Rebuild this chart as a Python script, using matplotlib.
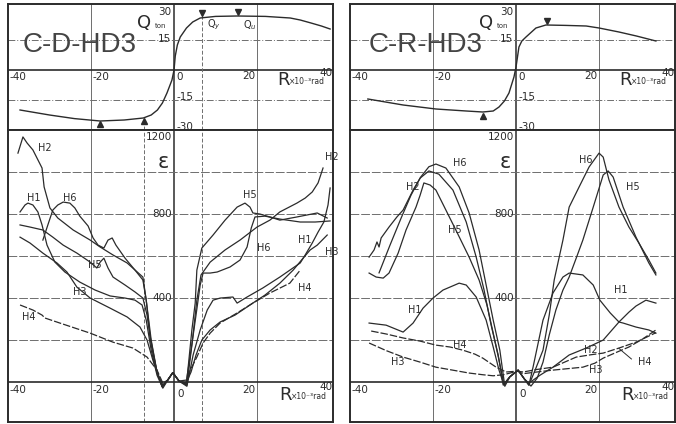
import matplotlib
matplotlib.use('Agg')
import matplotlib.pyplot as plt

plt.rcParams['font.family'] = ['DejaVu Sans']

INK = '#2b2b2b'
GRID = '#6e6e6e'
NARROW = ['Liberation Sans Narrow', 'DejaVu Sans']
TITLE_FONT = ['Liberation Sans', 'DejaVu Sans']

# ---- load - rotation curves, Q (ton) vs R (x10^-3 rad)
cd_q_r = [-37.1, -30, -24, -17.8, -12, -7.4, -5.5, -4, -2.8, -1.7, -0.5, 0, 0.3, 0.8, 1.5, 3,
          4.5, 6.3, 10, 15.2, 22, 28, 30.4, 33, 35.5, 37.6]
cd_q_val = [-20, -22.5, -24.3, -25.5, -25, -24, -22.5, -20, -16.5, -11.5, -5, 0, 7, 12.5, 16.5, 21,
            24, 26, 26.8, 27, 26.8, 26, 25, 23.5, 22, 20.5]
cr_q_r = [-35.7, -27.2, -19.3, -12, -8, -5.5, -4.1, -2.8, -1.7, -0.5, 0, 0.7, 1.4, 2.4, 4.8, 7.2,
          12, 16.9, 20, 24.8, 29, 33.7]
cr_q_val = [-14.5, -17.5, -19.5, -20.5, -21, -20.5, -18.5, -15.5, -11.5, -3.5, 1.5, 11.5, 14.5, 16.5,
            21, 22.5, 22.3, 22, 21, 19, 17, 14.5]

# yield / ultimate marks
cd_up_r = [-17.8, -7.2]
cd_up_q = [-27.0, -25.5]
cd_dn_r = [6.7, 15.3]
cd_dn_q = [28.3, 28.8]
cd_dn_names = ['Q$_y$', 'Q$_u$']
cd_yield_r = [-7.2, 6.7]
cr_up_r = [-8.0]
cr_up_q = [-23.0]
cr_dn_r = [7.5]
cr_dn_q = [24.5]

# ---- strain curves, eps (x10^-6) vs R, C-D-HD3
cd_mid_r = [-1.5, -0.3, 1.2]
cd_mid_e = [10, 45, 5]

cd_h1_r = [-37.1, -35.9, -35.2, -34.0, -32.8, -31.8, -30.6, -28.7, -26.3, -22.7, -19.0, -15.4, -11.8,
           -9.4, -7.7, -6.7, -5.5, -4.1, -2.8]
cd_h1_e = [810, 843, 852, 843, 810, 748, 652, 571, 524, 476, 438, 410, 400, 390, 367, 295, 152, 33, -25]
cd_h1_r2 = [3.1, 4.6, 6.3, 8.0, 9.4, 11.1, 14.2, 15.2, 17.6, 21.4, 25.5, 30.4, 31.6, 33.3, 34.7, 36.1,
            37.1, 37.6]
cd_h1_e2 = [-20, 129, 248, 343, 390, 400, 405, 376, 405, 448, 500, 567, 605, 662, 714, 762, 843, 924]

cd_h2_r = [-37.6, -36.4, -35.4, -34.0, -31.8, -31.3, -29.9, -28.0, -24.3, -20.2, -17.8, -14.7, -11.3,
           -7.5, -6.7, -5.8, -4.3, -2.9]
cd_h2_e = [1090, 1167, 1138, 1105, 1019, 929, 829, 781, 724, 676, 643, 605, 567, 500, 390, 224, 67, -20]
cd_h2_r2 = [3.1, 4.3, 5.5, 6.5, 8.7, 12.3, 15.9, 20.0, 23.1, 25.5, 29.6, 31.6, 33.3, 34.7, 35.9]
cd_h2_e2 = [-15, 176, 390, 510, 571, 629, 676, 738, 771, 810, 852, 876, 905, 948, 1019]

cd_h3_r = [-37.1, -34.7, -31.6, -28.2, -25.8, -23.4, -20.2, -15.4, -11.3, -8.2, -6.5, -5.1, -3.9, -2.7]
cd_h3_e = [690, 662, 614, 567, 524, 452, 400, 352, 310, 262, 200, 105, 33, -14]
cd_h3_r2 = [2.9, 4.1, 5.3, 6.7, 8.7, 11.1, 14.7, 18.3, 21.9, 25.5, 28.7, 31.1, 32.8, 34.5, 35.7, 36.9]
cd_h3_e2 = [-5, 48, 129, 200, 248, 286, 319, 367, 414, 471, 533, 590, 629, 652, 676, 700]

cd_h4_r = [-37.1, -34.0, -31.8, -31.1, -27.5, -20.2, -14.7, -9.9, -6.5, -4.1, -2.7]
cd_h4_e = [367, 343, 319, 305, 281, 233, 190, 162, 119, 57, -5]
cd_h4_r2 = [2.9, 3.9, 5.5, 7.0, 8.7, 11.1, 15.2, 19.0, 23.1, 27.9, 30.4]
cd_h4_e2 = [-10, 57, 119, 186, 233, 281, 329, 376, 424, 471, 533]

cd_h5_r = [-37.1, -34.7, -31.6, -29.2, -26.7, -23.4, -20.2, -18.6, -17.8, -16.9, -15.9, -14.7, -11.8,
           -9.4, -7.5, -6.5, -5.5, -4.1, -2.9]
cd_h5_e = [748, 738, 724, 690, 652, 614, 571, 543, 571, 590, 543, 500, 462, 429, 400, 319, 176, 48, -19]
cd_h5_r2 = [3.1, 4.3, 5.1, 5.5, 6.7, 9.4, 12.3, 15.2, 17.1, 18.3, 19.0, 20.7, 23.1, 25.5, 29.6, 34.5, 36.9]
cd_h5_e2 = [10, 248, 376, 533, 638, 700, 771, 833, 852, 833, 805, 800, 786, 771, 786, 805, 781]

cd_h6_r = [-31.6, -30.4, -29.2, -28.0, -26.7, -25.1, -23.9, -22.7, -20.7, -19.5, -18.3, -16.9, -15.9,
           -14.9, -14.0, -11.8, -9.4, -7.5, -6.7, -5.5, -4.1, -2.7]
cd_h6_e = [676, 748, 819, 843, 857, 852, 829, 790, 743, 686, 652, 638, 676, 686, 652, 590, 533, 486,
           390, 200, 48, -29]
cd_h6_r2 = [2.9, 4.1, 5.3, 6.3, 7.0, 8.7, 10.4, 13.5, 15.9, 17.6, 18.6, 19.5, 21.9, 25.5, 30.4, 34.0, 37.6]
cd_h6_e2 = [-5, 152, 319, 462, 519, 519, 524, 548, 581, 643, 733, 786, 790, 776, 762, 762, 767]

# ---- strain curves, C-R-HD3
cr_mid_r = [-1.5, 0.5, 2.0]
cr_mid_e = [25, 57, 15]
cr_flat_r = [0.3]
cr_flat_e = [52]

cr_h1_r = [-35.4, -31.3, -27.2, -24.8, -22.4, -20.0, -17.6, -13.7, -12.0, -9.6, -7.2, -5.5, -4.1, -2.9]
cr_h1_e = [281, 271, 238, 281, 352, 400, 438, 471, 462, 405, 295, 167, 57, -15]
cr_h1_r2 = [3.1, 4.1, 6.5, 8.9, 11.3, 12.8, 16.1, 18.6, 20.2, 22.7, 24.8, 25.8, 28.9, 32.0, 33.7]
cr_h1_e2 = [-15, 71, 295, 424, 500, 519, 510, 462, 390, 329, 286, 281, 262, 248, 233]

cr_h2_r = [-35.4, -34.2, -33.5, -33.0, -32.5, -30.6, -28.7, -27.2, -24.8, -23.1, -21.0, -18.6, -15.2,
           -12.0, -9.6, -7.7, -6.0, -4.3, -3.1]
cr_h2_e = [595, 629, 667, 643, 686, 738, 786, 819, 914, 971, 1005, 990, 914, 762, 595, 438, 271, 129, -14]
cr_h2_r2 = [3.1, 5.8, 8.9, 12.8, 16.9, 21.0, 24.8, 27.2, 28.9, 31.3, 33.7]
cr_h2_e2 = [-5, 33, 71, 129, 162, 200, 286, 333, 362, 390, 376]

cr_h3_r = [-35.4, -31.3, -27.2, -23.1, -19.3, -15.3, -11.3, -8.0, -5.5, -3.0]
cr_h3_e = [186, 150, 119, 95, 71, 57, 43, 35, 30, 35]
cr_h3_r2 = [1.7, 5.0, 8.9, 12.5, 16.1, 19.0, 21.0, 24.0, 27.2, 30.5, 33.7]
cr_h3_e2 = [40, 48, 57, 64, 71, 90, 114, 140, 167, 205, 248]

cr_h4_r = [-34.9, -31.3, -27.2, -23.1, -19.3, -15.9, -12.8, -9.9, -8.0, -4.8, -2.4]
cr_h4_e = [243, 229, 210, 195, 176, 167, 152, 133, 114, 71, 48]
cr_h4_r2 = [1.7, 5.0, 8.9, 14.5, 18.0, 21.0, 24.8, 28.9, 33.7]
cr_h4_e2 = [48, 60, 71, 119, 130, 138, 162, 190, 235]

cr_h5_r = [-35.4, -33.7, -32.0, -30.6, -28.4, -26.5, -24.1, -23.1, -22.2, -20.7, -19.3, -16.9, -14.5,
           -11.3, -8.9, -7.0, -5.5, -4.1, -2.9]
cr_h5_e = [519, 500, 495, 519, 614, 724, 833, 890, 948, 938, 914, 819, 724, 595, 486, 367, 233, 105, -10]
cr_h5_r2 = [3.6, 5.1, 6.5, 8.0, 9.6, 11.3, 12.8, 14.5, 16.1, 18.6, 21.0, 22.2, 23.4, 25.8, 28.9, 32.0, 33.7]
cr_h5_e2 = [-19, 19, 95, 224, 343, 438, 500, 590, 676, 833, 986, 1005, 976, 833, 690, 567, 510]

cr_h6_r = [-33.0, -30.4, -27.7, -25.3, -23.0, -21.0, -19.3, -16.9, -13.7, -11.3, -8.9, -7.2, -5.5, -3.9, -2.7]
cr_h6_e = [520, 650, 780, 890, 975, 1025, 1038, 1019, 929, 805, 629, 462, 295, 152, -20]
cr_h6_r2 = [3.1, 4.6, 6.5, 8.0, 9.2, 11.3, 12.8, 15.2, 17.6, 20.0, 21.0, 22.4, 24.8, 27.2, 29.6, 32.0, 33.7]
cr_h6_e2 = [-14, 57, 152, 319, 486, 676, 833, 929, 1024, 1090, 1071, 962, 833, 738, 662, 581, 519]

# curve label positions (R, eps)
cd_labels = [('H2', -32.8, 1114), ('H1', -35.4, 876), ('H6', -26.7, 876), ('H5', -20.7, 557),
             ('H3', -24.3, 429), ('H4', -36.6, 310), ('H5', 16.6, 890), ('H6', 20.0, 638),
             ('H1', 29.9, 676), ('H3', 36.4, 619), ('H4', 29.9, 448), ('H2', 36.4, 1071)]
cr_labels = [('H6', -15.2, 1043), ('H2', -26.5, 929), ('H5', -16.4, 724), ('H1', -26.0, 343),
             ('H4', -15.2, 176), ('H3', -30.1, 95), ('H6', 15.2, 1057), ('H5', 26.5, 929),
             ('H1', 23.5, 440), ('H2', 16.4, 152), ('H3', 17.6, 57), ('H4', 29.4, 95)]

fig = plt.figure(figsize=(6.76, 4.24), dpi=100)
W, H = 676.0, 424.0


def make_axes(x0, x1, xlim):
    aq = fig.add_axes([x0 / W, 1 - 130 / H, (x1 - x0) / W, 126 / H])
    ae = fig.add_axes([x0 / W, 2 / H, (x1 - x0) / W, 292 / H])
    aq.set_xlim(xlim); aq.set_ylim(-30, 33)
    ae.set_xlim(xlim); ae.set_ylim(-190, 1200)
    for a in (aq, ae):
        a.set_xticks([]); a.set_yticks([])
        for s in a.spines.values():
            s.set_linewidth(1.4); s.set_color(INK)
        for xv in (-20, 20):
            a.axvline(xv, color=GRID, lw=0.7, zorder=1)
        a.axvline(0, color=INK, lw=1.1, zorder=1)
        a.axhline(0, color=INK, lw=1.2, zorder=1)
    for yv in (-15, 15):
        aq.axhline(yv, color=GRID, lw=0.7, ls=(0, (7, 2, 1, 2)), zorder=1)
    for yv in (200, 400, 600, 800, 1000):
        ae.axhline(yv, color=GRID, lw=0.7, ls=(0, (9, 2)), zorder=1)
    return aq, ae


def tick_text(aq, ae, xmax):
    kw = dict(fontsize=7.5, color=INK, family=NARROW)
    aq.text(-39.6, -3.5, '-40', ha='left', va='center', **kw)
    aq.text(-19.6, -3.5, '-20', ha='left', va='center', **kw)
    aq.text(0.5, -3.5, '0', ha='left', va='center', **kw)
    aq.text(19.6, -3.0, '20', ha='right', va='center', **kw)
    aq.text(xmax - 0.2, -1.5, '40', ha='right', va='center', **kw)
    aq.text(-0.6, 29.0, '30', ha='right', va='center', **kw)
    aq.text(-0.6, 15.3, '15', ha='right', va='center', **kw)
    aq.text(0.6, -13.5, '-15', ha='left', va='center', **kw)
    aq.text(0.6, -28.5, '-30', ha='left', va='center', **kw)
    aq.text(xmax - 13.5, -5, 'R', ha='left', va='center', fontsize=13, color=INK, family=NARROW)
    aq.text(xmax - 10.6, -6, '×10⁻³rad', ha='left', va='center', fontsize=5.5, color=INK)
    aq.text(-7.3, 23.5, 'Q', ha='center', va='center', fontsize=13, color=INK, family=NARROW)
    aq.text(-3.3, 22.2, 'ton', ha='center', va='center', fontsize=5, color=INK)

    ae.text(-39.6, -40, '-40', ha='left', va='center', **kw)
    ae.text(-19.6, -40, '-20', ha='left', va='center', **kw)
    ae.text(0.7, -55, '0', ha='left', va='center', **kw)
    ae.text(19.5, -38, '20', ha='right', va='center', **kw)
    ae.text(xmax - 0.2, -25, '40', ha='right', va='center', **kw)
    ae.text(-0.5, 1165, '1200', ha='right', va='center', **kw)
    ae.text(-0.5, 800, '800', ha='right', va='center', **kw)
    ae.text(-0.5, 400, '400', ha='right', va='center', **kw)
    ae.text(-2.6, 1050, 'ε', ha='center', va='center', fontsize=15, color=INK)
    ae.text(xmax - 13.0, -62, 'R', ha='left', va='center', fontsize=13, color=INK, family=NARROW)
    ae.text(xmax - 10.1, -70, '×10⁻³rad', ha='left', va='center', fontsize=5.5, color=INK)


def strain(ae, r1, e1, rm, em, r2, e2, dashed=False):
    ls = (0, (6, 1.6)) if dashed else '-'
    ae.plot(r1 + rm + r2, e1 + em + e2, color=INK, lw=0.9, ls=ls, zorder=3)


# ---------------- C-D-HD3 ----------------
xl1 = (-40, 38.3)
aq1, ae1 = make_axes(8, 333, xl1)
aq1.plot(cd_q_r, cd_q_val, color=INK, lw=1.0, zorder=3)
aq1.plot(cd_up_r, cd_up_q, ls='none', marker='^', ms=4, color=INK, zorder=4)
aq1.plot(cd_dn_r, cd_dn_q, ls='none', marker='v', ms=4, color=INK, zorder=4)
for r, n in zip(cd_dn_r, cd_dn_names):
    aq1.text(r + 1.2, 22.5, n, fontsize=7, color=INK, ha='left', va='center')
aq1.vlines(cd_yield_r[0], -30, cd_up_q[1], color=GRID, lw=0.7, ls=(0, (4, 2)))
aq1.vlines(cd_yield_r[1], -30, cd_dn_q[0], color=GRID, lw=0.7, ls=(0, (4, 2)))
for xv in cd_yield_r:
    ae1.axvline(xv, color=GRID, lw=0.7, ls=(0, (4, 2)), zorder=1)
aq1.text(-36.4, 12.5, 'C-D-HD3', fontsize=20, color='#444444',
         family=TITLE_FONT, ha='left', va='center')

strain(ae1, cd_h1_r, cd_h1_e, cd_mid_r, cd_mid_e, cd_h1_r2, cd_h1_e2)
strain(ae1, cd_h2_r, cd_h2_e, cd_mid_r, cd_mid_e, cd_h2_r2, cd_h2_e2)
strain(ae1, cd_h3_r, cd_h3_e, cd_mid_r, cd_mid_e, cd_h3_r2, cd_h3_e2)
strain(ae1, cd_h4_r, cd_h4_e, cd_mid_r, cd_mid_e, cd_h4_r2, cd_h4_e2, dashed=True)
strain(ae1, cd_h5_r, cd_h5_e, cd_mid_r, cd_mid_e, cd_h5_r2, cd_h5_e2)
strain(ae1, cd_h6_r, cd_h6_e, cd_mid_r, cd_mid_e, cd_h6_r2, cd_h6_e2)
for name, r, e in cd_labels:
    ae1.text(r, e, name, fontsize=7, color=INK, family=NARROW, ha='left', va='center', zorder=5)
tick_text(aq1, ae1, xl1[1])

# ---------------- C-R-HD3 ----------------
xl2 = (-40, 38.3)
aq2, ae2 = make_axes(350, 675, xl2)
aq2.plot(cr_q_r, cr_q_val, color=INK, lw=1.0, zorder=3)
aq2.plot(cr_up_r, cr_up_q, ls='none', marker='^', ms=4, color=INK, zorder=4)
aq2.plot(cr_dn_r, cr_dn_q, ls='none', marker='v', ms=4, color=INK, zorder=4)
aq2.text(-35.4, 12.5, 'C-R-HD3', fontsize=20, color='#444444',
         family=TITLE_FONT, ha='left', va='center')

strain(ae2, cr_h1_r, cr_h1_e, cr_mid_r, cr_mid_e, cr_h1_r2, cr_h1_e2)
strain(ae2, cr_h2_r, cr_h2_e, cr_mid_r, cr_mid_e, cr_h2_r2, cr_h2_e2)
strain(ae2, cr_h3_r, cr_h3_e, cr_flat_r, cr_flat_e, cr_h3_r2, cr_h3_e2, dashed=True)
strain(ae2, cr_h4_r, cr_h4_e, cr_flat_r, cr_flat_e, cr_h4_r2, cr_h4_e2, dashed=True)
strain(ae2, cr_h5_r, cr_h5_e, cr_mid_r, cr_mid_e, cr_h5_r2, cr_h5_e2)
strain(ae2, cr_h6_r, cr_h6_e, cr_mid_r, cr_mid_e, cr_h6_r2, cr_h6_e2)
ae2.plot([24.8, 27.8], [160, 110], color=INK, lw=0.7)
for name, r, e in cr_labels:
    ae2.text(r, e, name, fontsize=7, color=INK, family=NARROW, ha='left', va='center', zorder=5)
tick_text(aq2, ae2, xl2[1])

fig.savefig('out.png', dpi=100, facecolor='white')
